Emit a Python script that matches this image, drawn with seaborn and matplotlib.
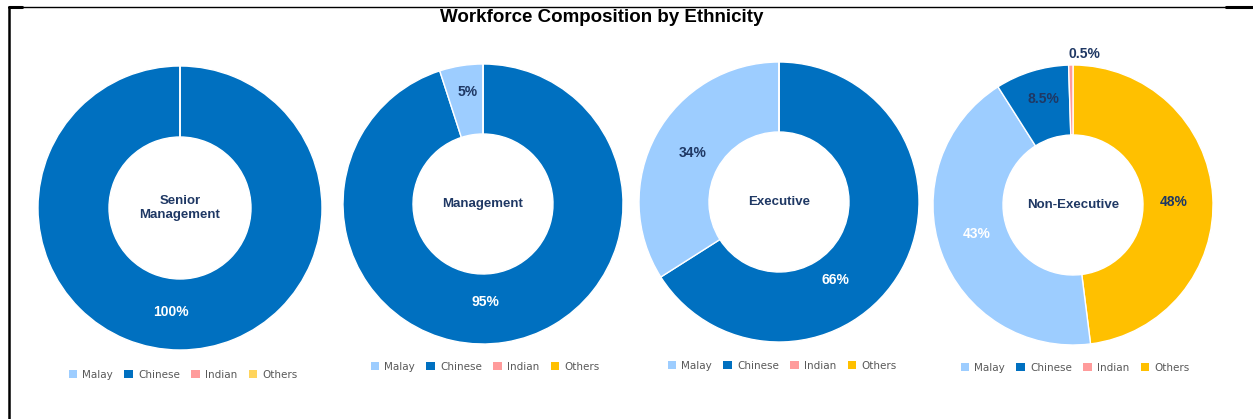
import matplotlib
matplotlib.use("Agg")
import matplotlib.pyplot as plt
import seaborn as sns
from matplotlib.lines import Line2D
from matplotlib.patches import Patch

# ---------------- data ----------------
categories = ["Malay", "Chinese", "Indian", "Others"]
groups = ["Senior\nManagement", "Management", "Executive", "Non-Executive"]
senior_mgmt = [0, 100, 0, 0]
management = [5, 95, 0, 0]
executive = [34, 66, 0, 0]
non_executive = [43, 8.5, 0.5, 48]
title = "Workforce Composition by Ethnicity"

# ---------------- style ----------------
sns.set_theme(style="white")
plt.rcParams["font.family"] = ["DejaVu Sans"]
NARROW = ["Liberation Sans Narrow", "Liberation Sans", "DejaVu Sans"]

palette = sns.color_palette(["#9DCDFF", "#0070C0", "#FF9B9B", "#FFC000"])
legend_palettes = [
    sns.color_palette(["#9DCDFF", "#0070C0", "#FF9B9B", "#FFD45C"]),
    palette, palette, palette,
]
NAVY = "#1F3864"

W, H = 1253, 419
fig = plt.figure(figsize=(W / 100, H / 100), dpi=100)
fig.patch.set_facecolor("white")

# layout: (center x px, center y px, outer radius px, legend y px, legend centre x px)
layout = [
    (180, 208, 142, 375, 183),
    (483, 204, 140, 367, 485),
    (779, 202, 140, 366, 782),
    (1073, 205, 140, 368, 1075),
]
# clockwise draw order from 12 o'clock (indices into categories)
orders = [[1, 0, 2, 3], [1, 0, 2, 3], [1, 0, 2, 3], [3, 0, 1, 2]]
# label placements (unit radius coords) and colours per category
label_pos = [
    {1: (-0.063, -0.73)},
    {1: (0.02, -0.70), 0: (-0.107, 0.80)},
    {1: (0.40, -0.557), 0: (-0.614, 0.35)},
    {3: (0.72, 0.02), 0: (-0.69, -0.21), 1: (-0.21, 0.76), 2: (0.08, 1.08)},
]
label_col = [
    {1: "white"},
    {1: "white", 0: NAVY},
    {1: "white", 0: NAVY},
    {3: NAVY, 0: "white", 1: NAVY, 2: NAVY},
]

series = [senior_mgmt, management, executive, non_executive]

for i, vals in enumerate(series):
    cx, cy, r, ly, lx = layout[i]
    ax = fig.add_axes([(cx - r) / W, (H - cy - r) / H, 2 * r / W, 2 * r / H])
    order = orders[i]
    v = [vals[k] for k in order]
    c = [palette[k] for k in order]
    ax.pie(v, colors=c, startangle=90, counterclock=False, radius=1,
           wedgeprops=dict(width=0.5, edgecolor="white", linewidth=1.0))
    ax.set_xlim(-1, 1)
    ax.set_ylim(-1, 1)
    ax.set_aspect("equal")
    ax.axis("off")
    for k, (x, y) in label_pos[i].items():
        ax.text(x, y, f"{vals[k]:g}%", ha="center", va="center",
                fontsize=10, fontweight="bold", color=label_col[i][k],
                family=NARROW, clip_on=False)
    ax.text(0, 0, groups[i], ha="center", va="center", fontsize=9.5,
            fontweight="bold", color=NAVY, family=NARROW, linespacing=1.3)

    handles = [Patch(facecolor=legend_palettes[i][k], edgecolor="none")
               for k in range(len(categories))]
    fig.legend(handles, categories, loc="center", ncol=4, frameon=False,
               bbox_to_anchor=(lx / W, 1 - ly / H), fontsize=7.5,
               handlelength=0.8, handleheight=0.8, handletextpad=0.5,
               columnspacing=1.1, labelcolor="#595959")

fig.text(602 / W, 1 - 17 / H, title, ha="center", va="center",
         fontsize=13.5, fontweight="bold", color="black",
         family=["Liberation Sans", "DejaVu Sans"])

# frame lines (top and left only)
yt = 1 - 7.5 / H
xl = 8.5 / W
fig.add_artist(Line2D([xl, 1], [yt, yt], color="black", lw=1.0, transform=fig.transFigure))
fig.add_artist(Line2D([xl, 22 / W], [yt, yt], color="black", lw=2.2, transform=fig.transFigure))
fig.add_artist(Line2D([1226 / W, 1], [yt, yt], color="black", lw=2.2, transform=fig.transFigure))
fig.add_artist(Line2D([xl, xl], [0, yt], color="black", lw=1.8, transform=fig.transFigure))

fig.savefig("out.png", dpi=100, facecolor="white")
